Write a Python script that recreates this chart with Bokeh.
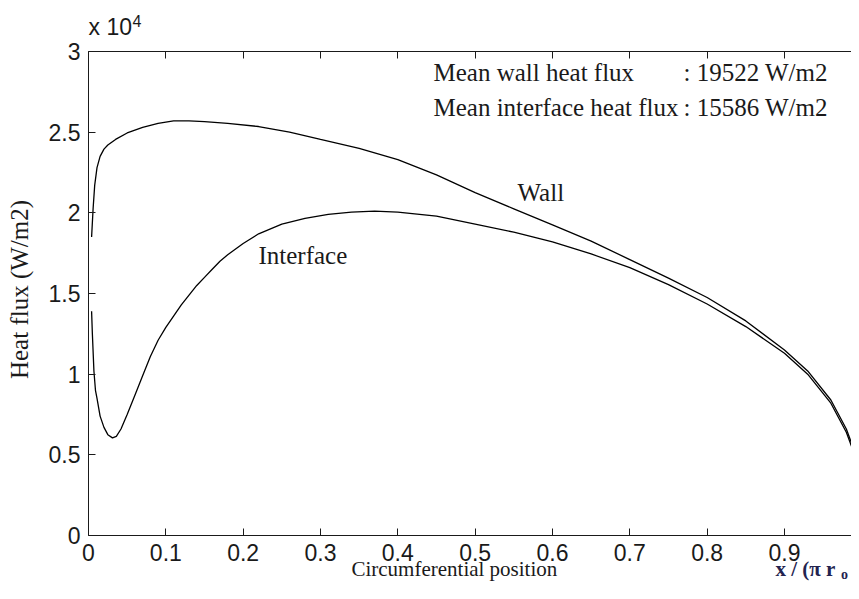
from bokeh.plotting import figure
from bokeh.models import Range1d, FixedTicker, LinearAxis, Label
from bokeh.embed import file_html
from bokeh.resources import INLINE

# ---- data (heat flux in W/m2 vs x/(pi r0)) ----
wall_x = [0.004, 0.006, 0.008, 0.011, 0.015, 0.02, 0.025, 0.035, 0.05, 0.07, 0.09,
          0.11, 0.13, 0.15, 0.18, 0.22, 0.26, 0.30, 0.35, 0.40, 0.45, 0.50, 0.55,
          0.60, 0.65, 0.70, 0.75, 0.80, 0.85, 0.90, 0.93, 0.96, 0.98, 0.99, 1.0]
wall_q = [18500, 20300, 21700, 22800, 23500, 23950, 24200, 24550, 24950, 25300, 25550,
          25700, 25700, 25650, 25550, 25350, 25000, 24550, 24000, 23300, 22350, 21250, 20250,
          19250, 18250, 17100, 15950, 14750, 13300, 11500, 10200, 8400, 6600, 5300, 3600]

iface_x = [0.004, 0.005, 0.007, 0.009, 0.011, 0.015, 0.02, 0.025, 0.031, 0.036, 0.042,
           0.05, 0.06, 0.07, 0.08, 0.09, 0.10, 0.11, 0.12, 0.13, 0.14, 0.15, 0.16,
           0.17, 0.18, 0.20, 0.22, 0.25, 0.28, 0.31, 0.34, 0.37, 0.40, 0.45, 0.50,
           0.55, 0.60, 0.65, 0.70, 0.75, 0.80, 0.85, 0.90, 0.93, 0.96, 0.98, 0.99, 1.0]
iface_q = [13900, 12500, 10200, 9000, 8500, 7400, 6700, 6250, 6050, 6150, 6600,
           7500, 8700, 9900, 11100, 12100, 12900, 13600, 14300, 14900, 15500, 16000, 16500,
           17000, 17400, 18100, 18700, 19300, 19650, 19900, 20050, 20100, 20050, 19800, 19300,
           18800, 18200, 17450, 16600, 15550, 14350, 12950, 11300, 10000, 8200, 6400, 5100, 3500]

x_ticks = [0, 0.1, 0.2, 0.3, 0.4, 0.5, 0.6, 0.7, 0.8, 0.9, 1.0]
x_tick_labels = ["0", "0.1", "0.2", "0.3", "0.4", "0.5", "0.6", "0.7", "0.8", "0.9", "1"]
y_ticks = [0, 5000, 10000, 15000, 20000, 25000, 30000]
y_tick_labels = ["0", "0.5", "1", "1.5", "2", "2.5", "3"]

mean_wall = 19522
mean_iface = 15586

SANS = "Liberation Sans"
SERIF = "Liberation Serif"
INK = "#1a1a1a"
NAVY = "#23234f"

# frame covers the whole canvas; axes are pinned at the data edges (0..1, 0..30000)
p = figure(width=851, height=583, output_backend="svg", toolbar_location=None,
           x_range=Range1d(-0.11380, 0.98668), y_range=Range1d(-2975, 33161),
           min_border=0, x_axis_location=None, y_axis_location=None)
p.outline_line_color = None
p.grid.visible = False
p.background_fill_color = "white"
p.border_fill_color = "white"

def make_axis(ticks, loc, bounds, labels=None, standoff=8):
    ax = LinearAxis(ticker=FixedTicker(ticks=ticks), fixed_location=loc, bounds=bounds)
    ax.major_tick_in = 7
    ax.major_tick_out = 0
    ax.minor_tick_line_color = None
    ax.axis_line_color = INK
    ax.major_tick_line_color = INK
    ax.axis_line_width = 1
    ax.major_label_text_font = SANS
    ax.major_label_text_font_size = "23px"
    ax.major_label_standoff = standoff
    if labels is None:
        ax.major_label_text_color = None
    else:
        ax.major_label_text_color = INK
        ax.major_label_overrides = {t: l for t, l in zip(ticks, labels)}
    return ax

p.add_layout(make_axis(x_ticks, 0, (0, 1), x_tick_labels, standoff=8), "below")
p.add_layout(make_axis(x_ticks, 30000, (0, 1)), "above")
p.add_layout(make_axis(y_ticks, 0, (0, 30000), y_tick_labels, standoff=8), "left")

p.line(wall_x, wall_q, line_color="black", line_width=1.3)
p.line(iface_x, iface_q, line_color="black", line_width=1.3)

def lab(x, y, text, font=SERIF, size="25px", color=INK, **kw):
    p.add_layout(Label(x=x, y=y, x_units="data", y_units="data", text=text,
                       text_font=font, text_font_size=size, text_color=color, **kw))

lab(0.5548, 20400, "Wall")
lab(0.2198, 16490, "Interface")
lab(0.4461, 27840, "Mean wall heat flux")
lab(0.7694, 27840, ": %d W/m2" % mean_wall)
lab(0.4461, 25670, "Mean interface heat flux")
lab(0.7694, 25670, ": %d W/m2" % mean_iface)
lab(-0.0724, 15248, "Heat flux (W/m2)", angle=1.5707963, text_align="center")
lab(0.340, -2790, "Circumferential position", size="21px")
lab(0.8884, -2790, "x / (\u03c0 r", size="21px", text_font_style="bold", color=NAVY)
lab(0.9730, -2900, "o", size="14px", text_font_style="bold", color=NAVY)
lab(0.0, 30690, "x 10", font=SANS, size="23px")
lab(0.0569, 31500, "4", font=SANS, size="16px")

open("out.html", "w").write(file_html(p, INLINE))
